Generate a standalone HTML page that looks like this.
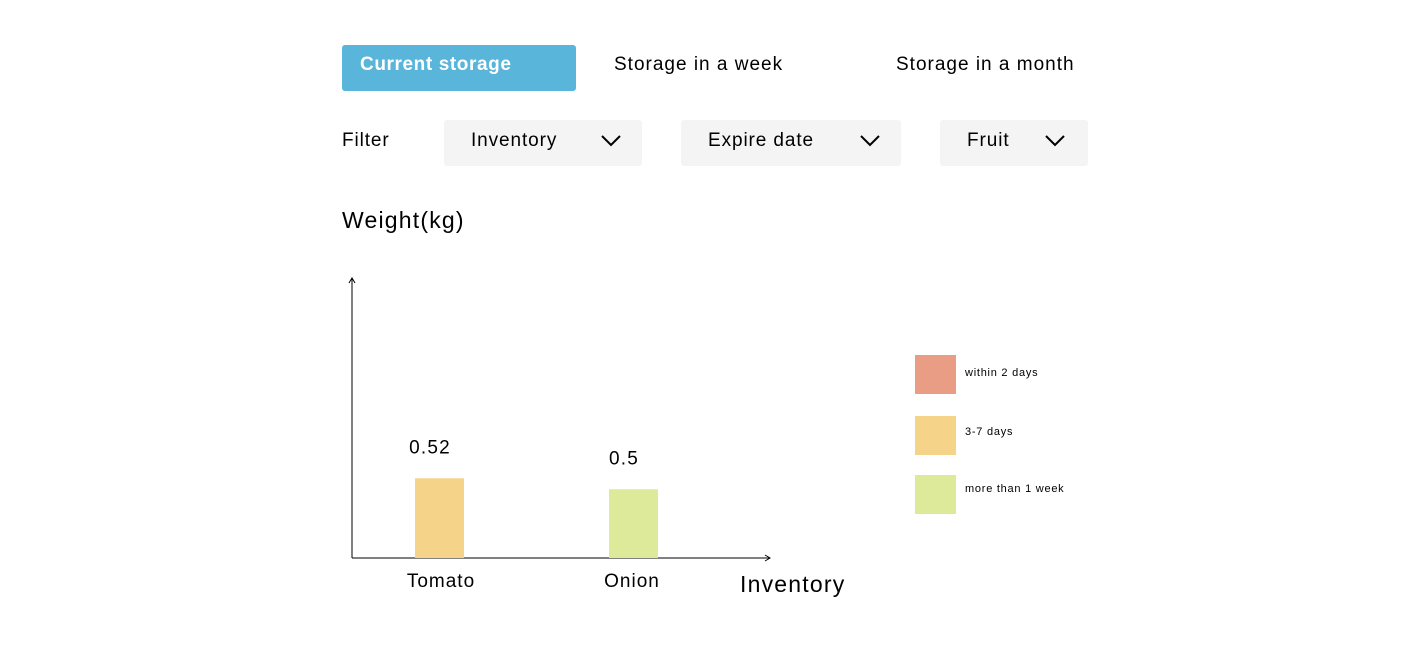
<!DOCTYPE html>
<html><head><meta charset="utf-8"><style>
body{margin:0;width:1414px;height:648px;background:#fff;font-family:"Liberation Sans",sans-serif;color:#000;position:relative;overflow:hidden}
.a{position:absolute;white-space:nowrap}
.tab{font-size:19px;top:54px;letter-spacing:1px}
.dd{position:absolute;top:120px;height:46px;background:#f4f4f4;border-radius:3px;font-size:19px;letter-spacing:0.9px}
.dd span{position:absolute;left:27px;top:10px}
.dd svg{position:absolute;top:15px}
.lg{position:absolute;left:915px;width:41px;height:39px}
.lt{position:absolute;left:965px;font-size:11px;letter-spacing:0.75px}
</style></head><body>
<div class="a" style="left:342px;top:45px;width:234px;height:46px;background:#5ab5da;border-radius:3px"></div>
<div class="a tab" style="left:360px;color:#fff;font-weight:bold;letter-spacing:0.6px">Current storage</div>
<div class="a tab" style="left:614px">Storage in a week</div>
<div class="a tab" style="left:896px">Storage in a month</div>
<div class="a" style="left:342px;top:130px;font-size:19px;letter-spacing:0.9px">Filter</div>
<div class="dd" style="left:444px;width:198px"><span>Inventory</span><svg style="left:157px" width="20" height="12"><polyline points="1,1 10,10 19,1" fill="none" stroke="#000" stroke-width="2"/></svg></div>
<div class="dd" style="left:681px;width:220px"><span>Expire date</span><svg style="left:179px" width="20" height="12"><polyline points="1,1 10,10 19,1" fill="none" stroke="#000" stroke-width="2"/></svg></div>
<div class="dd" style="left:940px;width:148px"><span>Fruit</span><svg style="left:105px" width="20" height="12"><polyline points="1,1 10,10 19,1" fill="none" stroke="#000" stroke-width="2"/></svg></div>
<div class="a" style="left:342px;top:207px;font-size:23px;letter-spacing:1.2px">Weight(kg)</div>
<div class="a" style="left:740px;top:571px;font-size:23px;letter-spacing:1.2px">Inventory</div>
<svg id="chart" class="a" style="left:0;top:0" width="1414" height="648">
<line x1="352" y1="558" x2="352" y2="278" stroke="#000" stroke-width="1"/>
<polyline points="349,283 352,278 355,283" fill="none" stroke="#000"/>
<line x1="352" y1="558" x2="770" y2="558" stroke="#000" stroke-width="1"/>
<polyline points="765,555 770,558 765,561" fill="none" stroke="#000"/>
</svg>
<div class="lg" style="top:355px;background:#e99d85"></div>
<div class="lt" style="top:367px">within 2 days</div>
<div class="lg" style="top:416px;background:#f5d48a"></div>
<div class="lt" style="top:426px">3-7 days</div>
<div class="lg" style="top:475px;background:#dcea9a"></div>
<div class="lt" style="top:483px">more than 1 week</div>
<script>
const categories=["Tomato","Onion"];
const values=[0.52,0.5];
const valueLabels=["0.52","0.5"];
const barColors=["#f5d48a","#dcea9a"];
const svg=document.getElementById('chart');
const NS="http://www.w3.org/2000/svg";
function y(v){return 558-(v-0.375)*550;}
function xc(i){return 440+i*194;}
categories.forEach((c,i)=>{
  const top=y(values[i]);
  const r=document.createElementNS(NS,'rect');
  
  
  r.setAttribute('x',xc(i)-25);r.setAttribute('width',49);
  r.setAttribute('y',top);r.setAttribute('height',558-top);
  r.setAttribute('fill',barColors[i]);svg.appendChild(r);
  const t=document.createElementNS(NS,'text');
  
  
  t.setAttribute('x',xc(i)-10);t.setAttribute('y',top-25);
  t.setAttribute('text-anchor','middle');t.setAttribute('font-size','19');
  t.setAttribute('letter-spacing','1.2');
  t.setAttribute('font-family','Liberation Sans, sans-serif');
  t.textContent=valueLabels[i];svg.appendChild(t);
  const l=document.createElementNS(NS,'text');
  
  
  l.setAttribute('x',xc(i)+1-i*3);l.setAttribute('y',587);
  l.setAttribute('text-anchor','middle');l.setAttribute('font-size','19');
  l.setAttribute('letter-spacing','1');
  l.setAttribute('font-family','Liberation Sans, sans-serif');
  l.textContent=c;svg.appendChild(l);
});
</script>
</body></html>
